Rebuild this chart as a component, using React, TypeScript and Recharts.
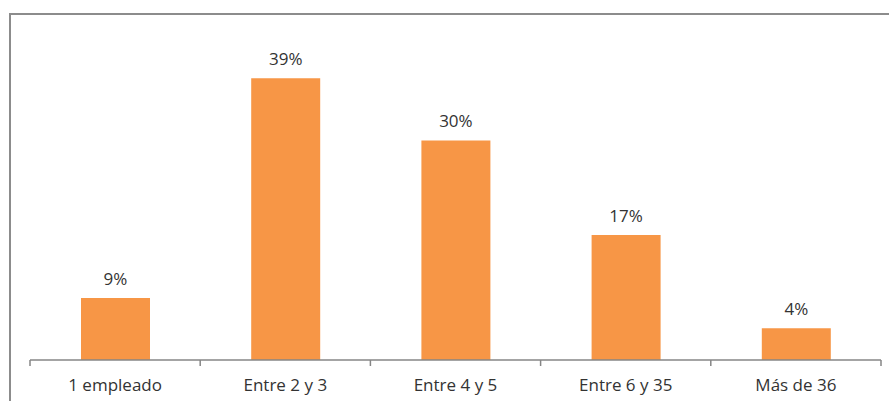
import React from 'react';
import { BarChart, Bar, XAxis, YAxis, LabelList } from 'recharts';

const categories = ['1 empleado', 'Entre 2 y 3', 'Entre 4 y 5', 'Entre 6 y 35', 'Más de 36'];
const shares = [8.6, 39, 30.4, 17.3, 4.4];

const data = categories.map((name, i) => ({ name, value: shares[i] }));

const FONT = '"Open Sans", sans-serif';
const TEXT = '#333333';
const AXIS = '#868686';
const TICK_MARGIN = 19;

// label plus Excel-style tick marks on the category boundaries
const CategoryTick = (props: any) => {
  const { x, y, payload, index, visibleTicksCount } = props;
  const half = payload.offset || 0;
  const axisY = y - TICK_MARGIN;
  const isLast = index === visibleTicksCount - 1;
  return (
    <g>
      <line x1={x - half} x2={x - half} y1={axisY} y2={axisY + 6} stroke={AXIS} strokeWidth={1.5} />
      {isLast && (
        <line x1={x + half} x2={x + half} y1={axisY} y2={axisY + 6} stroke={AXIS} strokeWidth={1.5} />
      )}
      <text x={x} y={y} dy="0.71em" textAnchor="middle" fill={TEXT} fontSize={17} fontFamily={FONT}>
        {payload.value}
      </text>
    </g>
  );
};

export default function App() {
  return (
    <div style={{ position: 'absolute', left: 0, top: 0, width: 889, height: 401, background: '#fff', overflow: 'hidden' }}>
      {/* chart frame, only top and left edges fall inside the crop */}
      <div
        style={{
          position: 'absolute',
          left: 9,
          top: 13,
          width: 900,
          height: 400,
          borderTop: '2px solid #8c8c8c',
          borderLeft: '2px solid #8c8c8c',
        }}
      />
      <BarChart
        width={889}
        height={401}
        data={data}
        margin={{ top: 35, right: 8, bottom: 11, left: 30 }}
        style={{ position: 'absolute', left: 0, top: 0, fontFamily: FONT }}
      >
        <YAxis hide domain={[0, 45]} />
        <XAxis
          dataKey="name"
          height={30}
          tickLine={false}
          tickSize={0}
          tickMargin={TICK_MARGIN}
          axisLine={{ stroke: AXIS, strokeWidth: 1.5 }}
          interval={0}
          tick={<CategoryTick />}
        />
        <Bar dataKey="value" fill="#F79646" barSize={69} isAnimationActive={false}>
          <LabelList
            dataKey="value"
            position="top"
            offset={13}
            fill={TEXT}
            fontSize={17}
            fontFamily={FONT}
            formatter={(v: number) => `${Math.round(v)}%`}
          />
        </Bar>
      </BarChart>
    </div>
  );
}
